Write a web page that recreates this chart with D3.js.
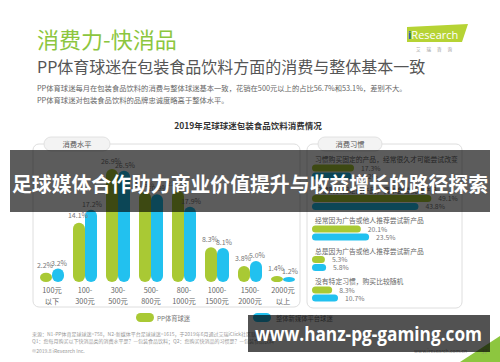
<!DOCTYPE html>
<html><head><meta charset="utf-8">
<script src="https://cdn.jsdelivr.net/npm/d3@7/dist/d3.min.js"></script>
<style>
html,body{margin:0;padding:0;background:#fff;}
svg{display:block;font-family:"Noto Sans CJK SC","Noto Sans",sans-serif;}
</style></head>
<body>
<svg id="c" width="500" height="362"></svg>
<script>
// ---------- data ----------
const seriesNames = ["PP体育球迷", "整体新媒体平台球迷"];
const seriesColors = ["#a9c934", "#22c1ef"];
const levelCats = ["100元|以下", "100-|300元", "300-|500元", "500-|800元", "800-|1000元", "1000-|1500元", "1500-|2000元", "2000元|以上"];
const ppLevel = [2.2, 14.1, 26.9, 21.5, 21.7, 8.3, 3.8, 1.4];
const allLevel = [3.2, 17.2, 26.5, 20.9, 17.9, 8.1, 5.0, 1.2];
const habitCats = ["习惯购买固定的产品，经常很久才可能尝试改变", "习惯购买固定的产品，偶尔会尝试新产品", "经常因为广告或他人推荐尝试新产品", "总是因为广告或他人推荐尝试新产品", "没有特定习惯，购买比较随机"];
const ppHabit = [17.3, 49.1, 20.1, 5.3, 8.3];
const allHabit = [16.2, 43.8, 23.5, 5.8, 10.7];
const titleText = "消费力-快消品";
const subtitleText = "PP体育球迷在包装食品饮料方面的消费与整体基本一致";
const bodyLines = ["PP体育球迷每月在包装食品饮料的消费与整体球迷基本一致，花销在500元以上的占比56.7%和53.1%，差别不大。", "PP体育球迷对包装食品饮料的品牌忠诚度略高于整体水平。"];
const chartTitle = "2019年足球球迷包装食品饮料消费情况";
const panelTitles = ["消费水平", "消费习惯"];
const footerLines = ["来源：N1-PP体育足球球迷=758，N2-新媒体平台足球球迷=1615，于2019年6月通过艾瑞iClick社区联机调研获得。", "Q1：您每月购买以下快消品类的消费水平是？—包装食品饮料；Q2：您购买快消品的习惯是？—包装食品饮料"];
const bannerText = "足球媒体合作助力商业价值提升与收益增长的路径探索";
const urlText = "www.hanz-pg-gaming.com";

const svg = d3.select("#c");
const fmt = v => d3.format(".1f")(v) + "%";

// ---------- header ----------
svg.append("text").attr("x", 37).attr("y", 48).attr("font-size", 22).attr("fill", "#8cc63e").text(titleText);
svg.append("text").attr("x", 37).attr("y", 73).attr("font-size", 16).attr("fill", "#555").text(subtitleText);
bodyLines.forEach((t, i) => svg.append("text").attr("x", 37).attr("y", 91 + i * 11.5).attr("font-size", 7.3).attr("fill", "#666").text(t));

// logo
svg.append("polygon").attr("points", "407,27 468,24 462,42 407,42").attr("fill", "#b6d334");
const lt = svg.append("text").attr("x", 408).attr("y", 38.5).attr("font-size", 11).attr("font-family", "Open Sans, sans-serif");
lt.append("tspan").attr("fill", "#1d5fa6").attr("font-weight", "bold").text("i");
lt.append("tspan").attr("fill", "#fff").text("Research");
svg.append("text").attr("x", 437).attr("y", 51).attr("text-anchor", "middle").attr("font-size", 4.5).attr("fill", "#999").attr("letter-spacing", 6).text("艾瑞咨询");

svg.append("text").attr("x", 248).attr("y", 129).attr("text-anchor", "middle").attr("font-size", 8.5).attr("font-weight", "bold").attr("fill", "#333").text(chartTitle);

// ---------- panels ----------
svg.append("rect").attr("x", 33).attr("y", 144).attr("width", 267).attr("height", 163).attr("rx", 6).attr("fill", "#fff").attr("stroke", "#dedede");
svg.append("rect").attr("x", 307).attr("y", 144).attr("width", 155).attr("height", 164).attr("rx", 6).attr("fill", "#fff").attr("stroke", "#dedede");
[[44, 110], [318, 382]].forEach((p, i) => {
  svg.append("rect").attr("x", p[0]).attr("y", 137).attr("width", p[1] - p[0]).attr("height", 14).attr("rx", 7).attr("fill", "#f3f3f3").attr("stroke", "#e2e2e2");
  svg.append("text").attr("x", (p[0] + p[1]) / 2).attr("y", 147).attr("text-anchor", "middle").attr("font-size", 7.3).attr("fill", "#555").text(panelTitles[i]);
});

// ---------- left: vertical bars ----------
const x = d3.scaleBand().domain(levelCats).range([35.5, 299.5]);
const y = d3.scaleLinear().domain([0, 30]).range([282, 156]);
const bw = 12;
const gL = svg.append("g");
[ppLevel, allLevel].forEach((vals, s) => {
  gL.selectAll(null).data(vals).join("rect")
    .attr("x", (d, i) => x(levelCats[i]) + x.bandwidth() / 2 - (s === 0 ? bw : 0))
    .attr("y", d => y(d)).attr("width", bw).attr("height", d => y(0) - y(d))
    .attr("rx", 6).attr("fill", seriesColors[s]);
});
[ppLevel, allLevel].forEach((vals, s) => {
  gL.selectAll(null).data(vals).join("text")
    .attr("x", (d, i) => x(levelCats[i]) + x.bandwidth() / 2 + (s === 0 ? -bw / 2 - 1 : bw / 2 + 1))
    .attr("y", d => y(d) - (s === 0 ? 5 : 3))
    .attr("text-anchor", "middle").attr("font-size", 7).attr("fill", "#777").text(fmt);
});
const xAxis = gL.append("g").attr("transform", "translate(0,282)").call(d3.axisBottom(x).tickSize(0).tickFormat(""));
xAxis.select(".domain").remove();
xAxis.selectAll(".tick").each(function(d) {
  const parts = d.split("|");
  const t = d3.select(this);
  parts.forEach((p, k) => t.append("text").attr("y", 11 + k * 10.5).attr("text-anchor", "middle")
    .attr("font-size", 7.3).attr("fill", "#666").attr("font-family", '"Noto Sans CJK SC",sans-serif').text(p));
});

// ---------- right: horizontal bars ----------
const hx = d3.scaleLinear().domain([0, 50]).range([312, 433.5]);
const hy = d3.scalePoint().domain(habitCats).range([162, 284]);
const bh = 7;
const gR = svg.append("g");
gR.selectAll(null).data(habitCats).join("text").attr("x", 315).attr("y", d => hy(d))
  .attr("font-size", 6.8).attr("fill", "#666").text(d => d);
[ppHabit, allHabit].forEach((vals, s) => {
  const off = s === 0 ? 6 : 14;
  gR.selectAll(null).data(vals).join("rect")
    .attr("x", hx(0)).attr("y", (d, i) => hy(habitCats[i]) + off - bh / 2)
    .attr("width", d => hx(d) - hx(0)).attr("height", bh).attr("rx", 3.5).attr("fill", seriesColors[s]);
  gR.selectAll(null).data(vals).join("text")
    .attr("x", d => hx(d) + 7).attr("y", (d, i) => hy(habitCats[i]) + off + 2.5)
    .attr("font-size", 6.8).attr("fill", "#777").text(fmt);
});

// ---------- legend ----------
const lg = [[136, 157], [253, 276]];
seriesNames.forEach((n, i) => {
  svg.append("rect").attr("x", lg[i][0]).attr("y", 313).attr("width", 18).attr("height", 9).attr("rx", 4.5).attr("fill", seriesColors[i]);
  svg.append("text").attr("x", lg[i][1]).attr("y", 320.5).attr("font-size", 6.3).attr("fill", "#777").text(n);
});

// ---------- footer ----------
footerLines.forEach((t, i) => svg.append("text").attr("x", 32).attr("y", 336 + i * 6.5).attr("font-size", 5).attr("fill", "#999").text(t));
svg.append("text").attr("x", 32).attr("y", 353).attr("font-size", 5).attr("fill", "#999").text("©2019.8 iResearch Inc.");
svg.append("text").attr("x", 467).attr("y", 353).attr("text-anchor", "end").attr("font-size", 5).attr("fill", "#999").text("www.iresearch.com.cn");
svg.append("polygon").attr("points", "460,362 500,336 500,362").attr("fill", "#8dc63f");
svg.append("text").attr("x", 481).attr("y", 354).attr("font-size", 6).attr("fill", "#8a9a60").text("37");

// ---------- overlays ----------
svg.append("rect").attr("x", 10).attr("y", 150).attr("width", 480).attr("height", 62).attr("fill", "rgba(0,0,0,0.64)");
svg.append("text").attr("x", 250).attr("y", 192).attr("text-anchor", "middle").attr("font-size", 20).attr("font-weight", "bold")
  .attr("fill", "#fff").attr("textLength", 476).attr("lengthAdjust", "spacingAndGlyphs").text(bannerText);
svg.append("rect").attr("x", 248).attr("y", 315).attr("width", 242).attr("height", 37).attr("fill", "rgba(0,0,0,0.68)");
svg.append("text").attr("x", 255).attr("y", 341).attr("font-size", 19).attr("font-weight", "bold").attr("font-family", "Open Sans, sans-serif")
  .attr("fill", "#fff").attr("textLength", 227).attr("lengthAdjust", "spacingAndGlyphs").text(urlText);
</script>
</body></html>
